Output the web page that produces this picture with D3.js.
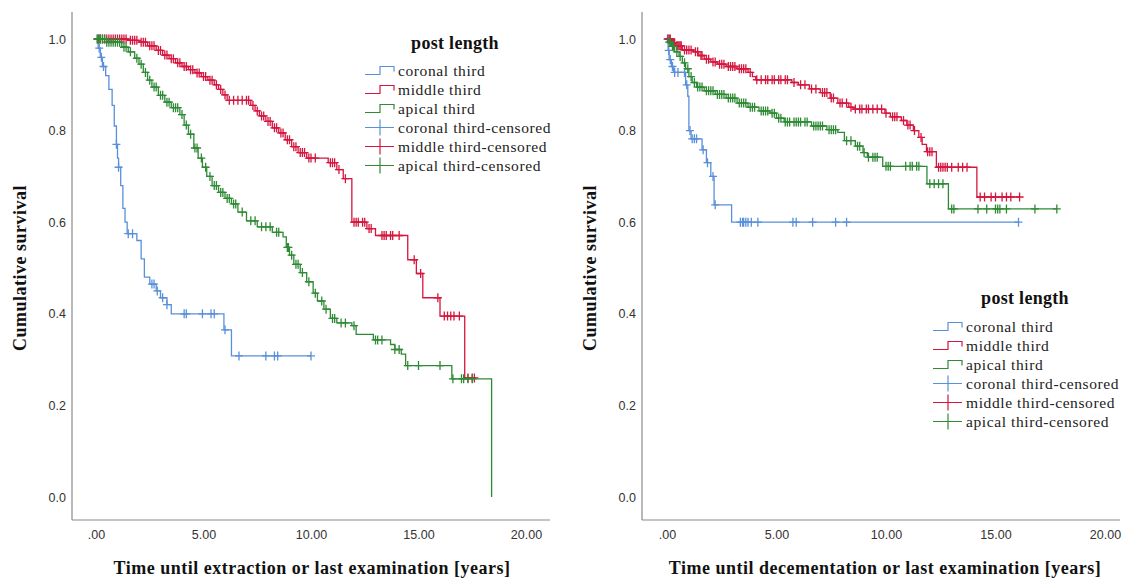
<!DOCTYPE html>
<html><head><meta charset="utf-8">
<script src="https://cdn.jsdelivr.net/npm/d3@7"></script>
<style>body{margin:0;background:#fff}svg{display:block}</style>
</head><body>
<svg id="c" width="1126" height="579"></svg>
<script>
// ---------- DATA ----------
const groups = ["coronal third", "middle third", "apical third"];
const legendLabels = ["coronal third", "middle third", "apical third",
  "coronal third-censored", "middle third-censored", "apical third-censored"];
const legendTitle = "post length";
const yTitle = "Cumulative survival";
const xTitles = ["Time until extraction or last examination [years]",
                 "Time until decementation or last examination [years]"];
const yTicks = [0, 0.2, 0.4, 0.6, 0.8, 1.0];
const yTickLabels = ["0.0", "0.2", "0.4", "0.6", "0.8", "1.0"];
const xTicks = [0, 5, 10, 15, 20];
const xTickLabels = [".00", "5.00", "10.00", "15.00", "20.00"];

// Panel 1: extraction. Steps = [time, survival after event]
const extCoronalSteps = [[0,1],[0.1,0.98],[0.2,0.96],[0.3,0.94],[0.45,0.92],[0.6,0.89],[0.75,0.855],[0.85,0.81],[0.95,0.77],[1.0,0.74],[1.05,0.72],[1.15,0.68],[1.25,0.63],[1.35,0.60],[1.45,0.575],[1.9,0.56],[2.1,0.52],[2.25,0.48],[2.5,0.465],[2.8,0.45],[3.0,0.435],[3.3,0.42],[3.5,0.40],[5.95,0.365],[6.3,0.308]];
const extCoronalCensored = [0.15,0.25,0.35,0.95,1.05,1.5,1.7,2.6,2.7,2.85,3.1,3.3,4.1,4.2,4.95,5.35,5.5,6.0,6.65,7.9,8.3,8.45,10.0];
const extMiddleSteps = [[0,1],[1.5,0.997],[2.0,0.993],[2.4,0.985],[2.8,0.975],[3.1,0.965],[3.4,0.957],[3.7,0.948],[4.0,0.94],[4.3,0.933],[4.6,0.926],[4.9,0.918],[5.2,0.91],[5.5,0.9],[5.7,0.89],[5.9,0.878],[6.1,0.866],[7.2,0.855],[7.4,0.843],[7.6,0.832],[7.9,0.82],[8.2,0.806],[8.5,0.795],[8.8,0.78],[9.1,0.765],[9.4,0.752],[9.8,0.74],[10.8,0.73],[11.2,0.715],[11.5,0.695],[11.9,0.60],[12.6,0.586],[13.0,0.571],[14.5,0.518],[14.9,0.488],[15.2,0.435],[16.0,0.395],[17.15,0.26]];
const extMiddleCensored = [0.1,0.2,0.3,0.4,0.5,0.6,0.7,0.8,0.9,1.0,1.1,1.2,1.3,1.4,1.6,1.7,1.8,1.9,2.1,2.2,2.3,2.5,2.6,2.7,2.9,3.0,3.2,3.3,3.5,3.6,3.8,3.9,4.1,4.2,4.4,4.5,4.7,4.8,5.0,5.1,5.3,5.4,5.6,5.8,6.0,6.2,6.4,6.6,6.8,7.0,7.1,7.3,7.5,7.7,7.8,8.0,8.1,8.3,8.4,8.6,8.7,8.9,9.0,9.2,9.3,9.5,9.6,9.7,9.9,10.0,10.2,10.9,11.0,11.1,11.3,11.6,12.0,12.1,12.2,12.4,12.5,12.7,12.8,13.3,13.4,13.5,13.7,13.8,14.1,14.8,15.1,15.9,16.2,16.35,16.5,16.65,16.9,17.3,17.5,17.6];
const extApicalSteps = [[0,1],[0.5,0.993],[1.2,0.982],[1.5,0.972],[1.8,0.958],[2.0,0.945],[2.2,0.927],[2.4,0.91],[2.6,0.895],[2.9,0.877],[3.2,0.862],[3.5,0.85],[3.9,0.835],[4.1,0.812],[4.3,0.792],[4.55,0.762],[4.75,0.74],[4.95,0.72],[5.15,0.70],[5.4,0.68],[5.7,0.665],[6.0,0.652],[6.3,0.64],[6.6,0.622],[7.0,0.603],[7.5,0.59],[8.2,0.578],[8.7,0.568],[8.85,0.545],[9.0,0.528],[9.2,0.508],[9.5,0.49],[9.8,0.47],[10.1,0.445],[10.3,0.428],[10.6,0.41],[10.9,0.39],[11.2,0.38],[11.9,0.374],[12.1,0.355],[12.9,0.343],[13.7,0.333],[13.9,0.322],[14.2,0.312],[14.4,0.287],[16.55,0.258],[18.4,0]];
const extApicalCensored = [0.05,0.1,0.15,0.2,0.3,0.4,0.5,0.6,0.7,0.8,0.9,1.0,1.1,1.3,1.4,1.6,1.9,2.1,2.3,2.5,2.7,2.8,3.0,3.1,3.3,3.4,3.6,3.7,3.8,4.0,4.2,4.4,4.6,4.7,4.9,5.1,5.3,5.5,5.6,5.8,5.9,6.1,6.2,6.4,6.5,6.8,7.2,7.4,7.7,7.9,8.1,8.4,8.5,8.9,8.95,9.1,9.3,9.4,9.6,9.9,10.2,10.5,10.7,11.0,11.1,11.4,11.6,12.0,13.0,13.1,13.3,13.9,14.1,14.5,15.0,16.0,16.6,17.0,17.1,17.3,17.5];

// Panel 2: decementation
const decCoronalSteps = [[0,1],[0.05,0.975],[0.1,0.955],[0.2,0.94],[0.3,0.927],[0.85,0.9],[0.95,0.875],[1.0,0.8],[1.1,0.782],[1.6,0.758],[1.8,0.73],[2.0,0.70],[2.15,0.638],[2.95,0.6]];
const decCoronalCensored = [0.02,0.08,0.15,0.25,0.35,0.5,0.8,0.9,1.05,1.15,1.25,1.35,1.65,1.85,2.1,2.2,3.35,3.45,3.5,3.6,3.7,3.85,4.15,5.75,5.9,6.65,7.7,8.2,16.05];
const decMiddleSteps = [[0,1],[0.2,0.992],[0.4,0.985],[0.7,0.976],[1.2,0.972],[1.45,0.964],[1.7,0.956],[2.0,0.95],[2.3,0.945],[2.7,0.94],[3.2,0.935],[3.7,0.927],[3.9,0.918],[4.05,0.911],[5.7,0.905],[6.0,0.9],[6.5,0.891],[7.0,0.883],[7.45,0.871],[7.8,0.86],[8.3,0.851],[8.5,0.847],[9.95,0.838],[10.2,0.83],[10.7,0.822],[10.95,0.812],[11.25,0.8],[11.5,0.785],[11.65,0.77],[11.85,0.754],[12.3,0.72],[14.15,0.655]];
const decMiddleCensored = [0.05,0.1,0.15,0.25,0.3,0.35,0.45,0.5,0.55,0.6,0.65,0.8,0.9,1.0,1.1,1.3,1.4,1.55,1.6,1.8,1.9,2.1,2.2,2.4,2.5,2.6,2.8,2.9,3.0,3.1,3.3,3.4,3.5,3.6,3.8,4.1,4.3,4.5,4.6,4.8,4.9,5.1,5.2,5.4,5.5,5.8,6.1,6.3,6.6,6.8,7.1,7.2,7.3,7.5,7.6,7.9,8.0,8.2,8.4,8.6,8.8,8.9,9.1,9.2,9.4,9.6,9.8,10.0,10.3,10.4,10.5,10.8,11.0,11.1,11.3,11.6,11.9,12.0,12.1,12.4,12.5,12.6,12.7,12.8,13.0,13.3,13.5,13.7,14.3,14.5,14.8,15.0,15.3,15.5,15.7,16.1];
const decApicalSteps = [[0,1],[0.05,0.993],[0.2,0.984],[0.35,0.972],[0.55,0.962],[0.7,0.948],[0.85,0.935],[1.0,0.918],[1.15,0.905],[1.35,0.895],[1.7,0.887],[2.2,0.879],[2.7,0.871],[3.2,0.86],[3.7,0.851],[4.2,0.843],[4.7,0.838],[5.0,0.827],[5.35,0.819],[6.6,0.81],[7.3,0.802],[7.8,0.796],[8.1,0.778],[8.6,0.766],[8.95,0.752],[9.15,0.742],[9.85,0.722],[11.87,0.684],[12.85,0.629]];
const decApicalCensored = [0.1,0.15,0.25,0.3,0.45,0.6,0.8,0.95,1.1,1.25,1.4,1.5,1.6,1.8,1.9,2.0,2.1,2.3,2.4,2.5,2.6,2.8,2.9,3.0,3.1,3.3,3.4,3.5,3.6,3.8,3.9,4.0,4.3,4.4,4.5,4.6,4.8,4.9,5.1,5.2,5.4,5.5,5.6,5.8,5.9,6.0,6.1,6.3,6.4,6.7,6.8,6.9,7.0,7.1,7.4,7.5,7.6,7.7,8.2,8.4,8.7,8.8,9.0,9.2,9.4,9.5,9.6,10.0,10.1,10.2,10.9,11.1,11.2,11.4,11.5,12.0,12.2,12.4,12.6,13.0,13.1,14.2,14.6,15.0,15.1,15.2,15.5,16.8,17.8];

const colors = ["#5a90da", "#d5163e", "#2f8a35"];

// ---------- DRAW ----------
const svg = d3.select("#c");
const serif = "'Liberation Serif','Times New Roman',serif";
const sans = "'Liberation Sans',Arial,sans-serif";

const panels = [
  { axisX: 72, xr: [96, 526], series: [[extCoronalSteps, extCoronalCensored],[extMiddleSteps, extMiddleCensored],[extApicalSteps, extApicalCensored]],
    legend: { x: 365, titleX: 455, titleY: 43, y0: 70.5, dy: 19 }, titleX: 312, yTitleX: 20 },
  { axisX: 642, xr: [667, 1105], series: [[decCoronalSteps, decCoronalCensored],[decMiddleSteps, decMiddleCensored],[decApicalSteps, decApicalCensored]],
    legend: { x: 933, titleX: 1025, titleY: 298, y0: 326.5, dy: 19 }, titleX: 885, yTitleX: 590 }
];
const axisY = 520, axisTop = 12;

function survAt(steps, t) {
  let s = 1;
  for (const [tt, v] of steps) { if (tt <= t) s = v; else break; }
  return s;
}

panels.forEach((p, pi) => {
  const x = d3.scaleLinear().domain([0, 20]).range(p.xr);
  const y = d3.scaleLinear().domain([0, 1]).range([497, 39]);
  const g = svg.append("g");

  g.append("line").attr("x1", p.axisX).attr("x2", p.axisX).attr("y1", axisTop).attr("y2", axisY)
    .attr("stroke", "#8a8a8a").attr("stroke-width", 1.2);
  g.append("line").attr("x1", p.axisX).attr("x2", p.axisX + 478).attr("y1", axisY).attr("y2", axisY)
    .attr("stroke", "#8a8a8a").attr("stroke-width", 1.2);

  const ya = d3.axisLeft(y).tickValues(yTicks).tickFormat((d, i) => yTickLabels[i]).tickSize(0).tickPadding(6);
  const yg = g.append("g").attr("transform", `translate(${p.axisX},0)`).call(ya);
  yg.select(".domain").remove();
  yg.selectAll("text").attr("font-family", sans).attr("font-size", 12.5).attr("fill", "#333");

  const xa = d3.axisBottom(x).tickValues(xTicks).tickFormat((d, i) => xTickLabels[i]).tickSize(0).tickPadding(10);
  const xg = g.append("g").attr("transform", `translate(0,${axisY})`).call(xa);
  xg.select(".domain").remove();
  xg.selectAll("text").attr("font-family", sans).attr("font-size", 12.5).attr("fill", "#333");

  g.append("text").attr("x", p.titleX).attr("y", 574).attr("text-anchor", "middle")
    .attr("font-family", serif).attr("font-weight", "bold").attr("font-size", 18)
    .attr("letter-spacing", 0.5).attr("fill", "#111")
    .text(xTitles[pi]);
  g.append("text").attr("transform", `translate(${p.yTitleX + 6},268) rotate(-90)`).attr("text-anchor", "middle")
    .attr("font-family", serif).attr("font-weight", "bold").attr("font-size", 18)
    .attr("letter-spacing", 0.5).attr("fill", "#111")
    .text(yTitle);

  const line = d3.line().x(d => x(d[0])).y(d => y(d[1])).curve(d3.curveStepAfter);
  p.series.forEach(([steps, cens], si) => {
    const last = steps[steps.length - 1];
    const tEnd = Math.max(last[0], d3.max(cens));
    const pts = steps.concat([[tEnd, last[1]]]);
    g.append("path").attr("d", line(pts)).attr("fill", "none")
      .attr("stroke", colors[si]).attr("stroke-width", 1.3);
    g.append("g").selectAll("path").data(cens).join("path")
      .attr("d", t => { const cx = x(t), cy = y(survAt(steps, t));
        return `M${cx - 4},${cy}H${cx + 4}M${cx},${cy - 4.5}V${cy + 4.5}`; })
      .attr("stroke", colors[si]).attr("stroke-width", 1.3).attr("fill", "none");
  });

  const L = p.legend;
  g.append("text").attr("x", L.titleX).attr("y", L.titleY + 6).attr("text-anchor", "middle")
    .attr("font-family", serif).attr("font-weight", "bold").attr("font-size", 18)
    .attr("letter-spacing", 0.3).attr("fill", "#111")
    .text(legendTitle);
  legendLabels.forEach((lab, i) => {
    const cy = L.y0 + i * L.dy, c = colors[i % 3], x0 = L.x;
    const d = i < 3
      ? `M${x0},${cy + 4}H${x0 + 15}V${cy - 4}H${x0 + 29}V${cy + 1}`
      : `M${x0},${cy}H${x0 + 29}M${x0 + 15},${cy - 8}V${cy + 8}`;
    g.append("path").attr("d", d).attr("fill", "none").attr("stroke", c).attr("stroke-width", 1.2);
    g.append("text").attr("x", x0 + 33).attr("y", cy + 5).attr("font-family", serif)
      .attr("font-size", 15.5).attr("letter-spacing", 0.6).attr("fill", "#222").text(lab);
  });
});
</script>
</body></html>
